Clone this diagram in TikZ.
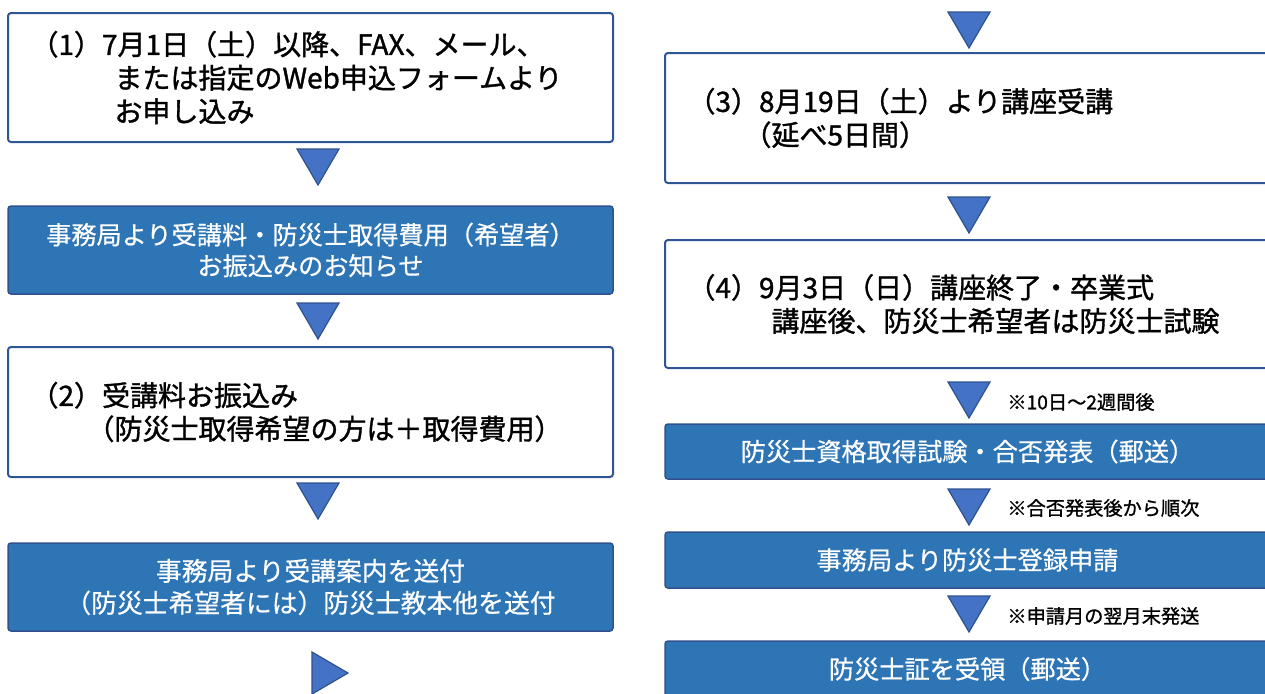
\documentclass[tikz,border=0pt]{standalone}
\usepackage{fontspec}
\setmainfont{Noto Sans CJK JP}
\newfontface\stepfont{Noto Sans CJK JP}[FakeBold=1.2]
\newfontface\bluefont{Noto Sans CJK JP}[FakeBold=0.6]
\definecolor{boxblue}{HTML}{2E75B6}
\definecolor{edgeblue}{HTML}{2F5597}
\definecolor{triblue}{HTML}{4472C4}
\definecolor{triedge}{HTML}{2F528F}
\begin{document}
\begin{tikzpicture}[x=0.5pt,y=-0.5pt,
    whitebox/.style={draw=edgeblue,line width=1pt,fill=white,rounded corners=1.5pt,
      minimum width=302.5pt,text width=280pt,inner xsep=11pt,align=left,
      font=\stepfont\fontsize{14}{16.75}\selectfont},
    bluebox/.style={draw=triedge,line width=0.75pt,fill=boxblue,rounded corners=1.5pt,
      minimum width=302.5pt,text=white,align=center,
      font=\bluefont\fontsize{12.6}{15.5}\selectfont},
    downtri/.style={draw=triedge,line width=0.6pt,fill=triblue,line join=miter},
    note/.style={anchor=west,inner sep=0pt,font=\stepfont\fontsize{9.6}{11}\selectfont}]
      \useasboundingbox (0,0) rectangle (1265,693);
      \clip (0,0) rectangle (1265,693);
      % left column
      \node[whitebox,minimum height=64.5pt] (apply) at (310.5,77.5)
        {（1）7月1日（土）以降、FAX、メール、\\\hspace*{3em}または指定のWeb申込フォームより\\\hspace*{3em}お申し込み};
      \node[bluebox,minimum height=44pt] (notice) at (310.5,250)
        {事務局より受講料・防災士取得費用（希望者）\\お振込みのお知らせ};
      \node[whitebox,minimum height=65pt] (pay) at (310.5,412)
        {（2）受講料お振込み\\\hspace*{2em}（防災士取得希望の方は＋取得費用）};
      \node[bluebox,minimum height=44pt,font=\bluefont\fontsize{12.9}{16}\selectfont] (guide) at (310.5,587)
        {事務局より受講案内を送付\\（防災士希望者には）防災士教本他を送付};
      % right column
      \node[whitebox,minimum height=65pt] (course) at (967.5,118)
        {（3）8月19日（土）より講座受講\\\hspace*{2em}（延べ5日間）};
      \node[whitebox,minimum height=64pt] (finish) at (967.5,304)
        {（4）9月3日（日）講座終了・卒業式\\\hspace*{3em}講座後、防災士希望者は防災士試験};
      \node[bluebox,minimum height=27.5pt] (exam) at (967.5,451.5)
        {防災士資格取得試験・合否発表（郵送）};
      \node[bluebox,minimum height=28pt] (register) at (967.5,560)
        {事務局より防災士登録申請};
      \node[bluebox,minimum height=28pt] (card) at (967.5,669)
        {防災士証を受領（郵送）};
      % triangles between the steps
      \foreach \x/\y in {318/149,318/303,318/483,969/12,969/197,969/382,969/489,969/596}
        \filldraw[downtri] (\x-21,\y) -- (\x+21,\y) -- (\x,\y+36) -- cycle;
      \filldraw[downtri] (312,652) -- (348,673) -- (312,694) -- cycle;
      % notes
      \node[note] (wait) at (1007,402) {※10日～2週間後};
      \node[note] (order) at (1007,508) {※合否発表後から順次};
      \node[note] (mail) at (1007,616) {※申請月の翌月末発送};
\end{tikzpicture}
\end{document}
